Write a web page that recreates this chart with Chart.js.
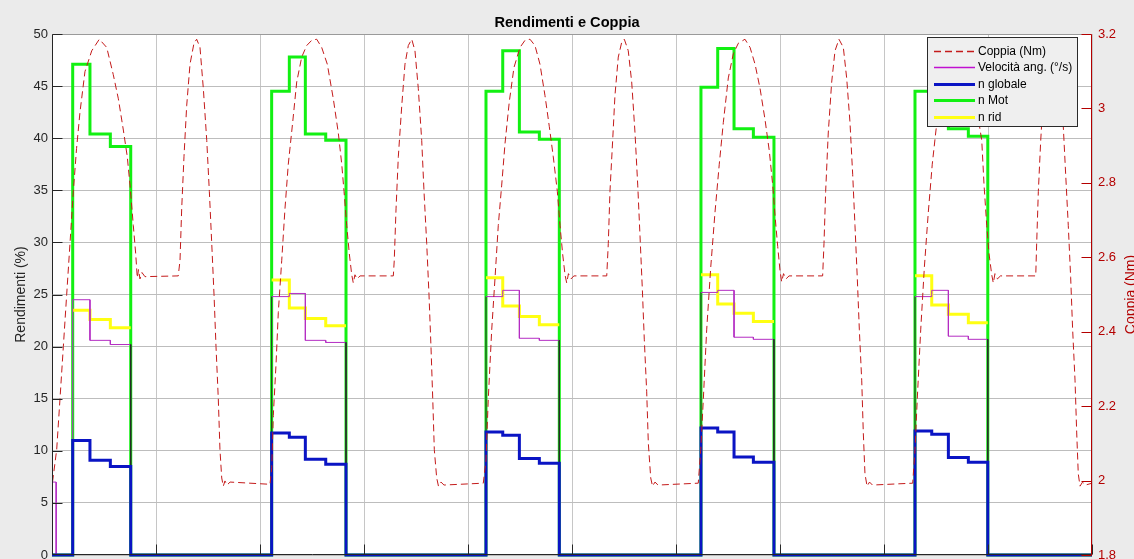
<!DOCTYPE html>
<html>
<head>
<meta charset="utf-8">
<script src="https://cdn.jsdelivr.net/npm/chart.js@4.4.1/dist/chart.umd.min.js"></script>
<style>
  html, body { margin: 0; padding: 0; background: #ebebeb; }
  #wrap { position: relative; width: 1134px; height: 559px; }
  canvas { display: block; }
</style>
</head>
<body>
<div id="wrap"><canvas id="c" width="1134" height="559"></canvas></div>
<script>
// ---- axis ticks ----
const timeTicks = [0, 1, 2, 3, 4, 5, 6, 7, 8, 9, 10];
const rendTicks = [0, 5, 10, 15, 20, 25, 30, 35, 40, 45, 50];
const coppiaTicks = [1.8, 2, 2.2, 2.4, 2.6, 2.8, 3, 3.2];
const coppiaTickLabels = ['1.8', '2', '2.2', '2.4', '2.6', '2.8', '3', '3.2'];

// ---- torque (Nm), sampled trace ----
const coppiaT = [
  0.005,0.045,0.077,0.109,0.141,0.173,0.205,0.236,0.269,0.317,0.382,0.455,0.526,0.589,0.638,0.686,0.724,0.750,0.782,0.805,0.820,0.832,0.846,0.865,0.894,
  1.214,1.231,1.247,1.269,1.295,1.327,1.365,1.391,1.423,1.455,1.488,1.513,1.536,1.558,1.577,1.599,1.615,1.632,1.647,1.663,1.683,1.712,
  2.096,2.113,2.128,2.154,2.176,2.209,2.240,2.272,2.314,2.353,2.401,2.449,2.497,2.545,2.593,2.647,2.705,2.753,2.786,2.808,2.834,2.859,2.882,2.897,2.913,2.933,2.962,
  3.282,3.291,3.308,3.330,3.363,3.394,3.426,3.459,3.490,3.522,3.555,3.577,3.603,3.625,3.644,3.661,3.676,3.699,3.716,3.740,3.769,
  4.147,4.173,4.195,4.228,4.260,4.291,4.324,4.356,4.397,4.442,4.500,4.548,4.596,4.644,4.692,4.740,4.782,4.820,4.859,4.885,4.910,4.933,4.949,4.966,4.990,5.019,
  5.334,5.349,5.365,5.391,5.413,5.445,5.478,5.503,5.541,5.574,5.606,5.632,5.654,5.676,5.695,5.718,5.734,5.757,5.774,5.798,5.827,
  6.214,6.238,6.263,6.295,6.334,6.375,6.416,6.455,6.503,6.551,6.599,6.663,6.712,6.760,6.808,6.856,6.897,6.930,6.955,6.978,7.000,7.016,7.034,7.058,7.087,
  7.410,7.423,7.439,7.464,7.497,7.529,7.567,7.609,7.641,7.673,7.699,7.721,7.743,7.763,7.786,7.801,7.817,7.837,7.861,7.889,
  8.276,8.298,8.320,8.353,8.388,8.426,8.464,8.500,8.548,8.606,8.663,8.721,8.779,8.837,8.885,8.913,8.940,8.962,8.988,9.010,9.036,9.051,9.067,9.091,9.120,
  9.459,9.468,9.484,9.507,9.534,9.567,9.606,9.644,9.683,9.724,9.747,9.772,9.795,9.814,9.837,9.853,9.868,9.885,9.909,9.938,10.000
];
const coppiaNm = [
  1.996,2.083,2.220,2.360,2.499,2.637,2.777,2.892,2.990,3.099,3.155,3.186,3.164,3.091,3.026,2.942,2.870,2.794,2.685,2.609,2.545,2.567,2.542,2.559,2.548,
  2.550,2.592,2.730,2.870,3.007,3.119,3.175,3.186,3.164,3.054,2.914,2.777,2.637,2.499,2.360,2.220,2.083,2.007,1.985,1.999,1.988,1.996,
  1.990,2.035,2.175,2.312,2.452,2.592,2.730,2.850,2.962,3.071,3.138,3.169,3.183,3.186,3.164,3.119,3.026,2.934,2.850,2.777,2.685,2.609,2.553,2.531,2.553,2.542,2.550,
  2.550,2.592,2.730,2.870,3.007,3.119,3.169,3.186,3.155,3.054,2.914,2.777,2.637,2.499,2.360,2.220,2.083,2.007,1.985,1.996,1.988,
  1.993,2.055,2.220,2.405,2.545,2.685,2.794,2.906,3.018,3.110,3.164,3.183,3.186,3.169,3.119,3.035,2.951,2.870,2.777,2.685,2.609,2.553,2.531,2.556,2.542,2.550,
  2.550,2.637,2.777,2.914,3.035,3.138,3.178,3.186,3.155,3.071,2.934,2.794,2.657,2.517,2.380,2.240,2.100,2.007,1.985,1.996,1.988,
  1.993,2.083,2.220,2.405,2.573,2.721,2.850,2.962,3.082,3.147,3.175,3.186,3.164,3.119,3.054,2.970,2.886,2.794,2.702,2.629,2.564,2.534,2.556,2.542,2.550,
  2.550,2.637,2.777,2.934,3.071,3.155,3.186,3.164,3.082,2.962,2.822,2.685,2.545,2.405,2.268,2.128,2.018,1.985,1.996,1.988,
  1.993,2.083,2.220,2.405,2.573,2.721,2.850,2.942,3.046,3.130,3.172,3.186,3.166,3.102,3.004,2.962,2.914,2.794,2.685,2.609,2.553,2.531,2.556,2.542,2.550,
  2.550,2.637,2.777,2.914,3.046,3.144,3.186,3.158,3.060,2.951,2.822,2.685,2.545,2.405,2.268,2.128,2.018,1.985,1.996,1.988,1.993
];

// ---- efficiency windows: switching instants and levels per cycle ----
const cycleEdges = [
  [0.199, 0.365, 0.561, 0.757],
  [2.112, 2.282, 2.436, 2.632, 2.827],
  [4.173, 4.334, 4.494, 4.686, 4.878],
  [6.240, 6.401, 6.558, 6.744, 6.942],
  [8.298, 8.459, 8.619, 8.811, 8.998]
];
const nMot = [
  [47.1, 40.4, 39.2],
  [44.5, 47.8, 40.4, 39.8],
  [44.5, 48.4, 40.6, 39.9],
  [44.9, 48.6, 40.9, 40.1],
  [44.5, 48.5, 40.9, 40.2]
];
const nGlobale = [
  [11.0, 9.1, 8.5],
  [11.7, 11.3, 9.2, 8.7],
  [11.8, 11.5, 9.25, 8.8],
  [12.2, 11.8, 9.4, 8.9],
  [11.9, 11.6, 9.35, 8.9]
];
const nRid = [
  [23.5, 22.6, 21.8],
  [26.4, 23.7, 22.7, 22.0],
  [26.6, 23.9, 22.9, 22.1],
  [26.9, 24.1, 23.2, 22.4],
  [26.8, 24.0, 23.1, 22.3]
];
const velAng = [
  [24.5, 20.6, 20.2],
  [24.8, 25.1, 20.6, 20.4],
  [24.8, 25.4, 20.8, 20.6],
  [25.2, 25.4, 20.9, 20.7],
  [24.8, 25.4, 21.0, 20.7]
];
const velStartT = [0.005, 0.04];
const velStartVal = 7.0;

const T_MIN = timeTicks[0], T_MAX = timeTicks[timeTicks.length - 1];

// stairs that rest at zero between windows (drawn with stepped lines)
function stairsZero(levels) {
  const pts = [{ x: T_MIN, y: 0 }];
  cycleEdges.forEach((e, c) => {
    levels[c].forEach((v, i) => pts.push({ x: e[i], y: v }));
    pts.push({ x: e[e.length - 1], y: 0 });
  });
  pts.push({ x: T_MAX, y: 0 });
  return pts;
}
// stairs that exist only inside windows
function stairsWindow(levels) {
  const pts = [];
  cycleEdges.forEach((e, c) => {
    levels[c].forEach((v, i) => pts.push({ x: e[i], y: v }));
    pts.push({ x: e[e.length - 1], y: levels[c][levels[c].length - 1] });
    pts.push({ x: e[e.length - 1] + 0.3, y: null });
  });
  return pts;
}
// explicit corner polyline so vertical edges can be styled
function stairsCorners() {
  const pts = [
    { x: velStartT[0], y: velStartVal }, { x: velStartT[1], y: velStartVal }, { x: velStartT[1], y: 0 }
  ];
  cycleEdges.forEach((e, c) => {
    const lv = velAng[c];
    pts.push({ x: e[0], y: 0 });
    lv.forEach((v, i) => {
      pts.push({ x: e[i], y: v });
      pts.push({ x: e[i + 1], y: v });
    });
    pts.push({ x: e[e.length - 1], y: 0 });
  });
  pts.push({ x: T_MAX, y: 0 });
  return pts;
}
const darkEdges = new Set();
cycleEdges.forEach((e, c) => { if (c > 0) darkEdges.add(e[0]); darkEdges.add(e[e.length - 1]); });

const FONT = '"Liberation Sans", Arial, Helvetica, sans-serif';
const RED = '#b40000';

const frame = {
  id: 'frame',
  beforeDraw(chart) {
    const { ctx, chartArea: a } = chart;
    ctx.save();
    ctx.fillStyle = '#ffffff';
    ctx.fillRect(a.left, a.top, a.right - a.left, a.bottom - a.top);
    ctx.restore();
  },
  afterDatasetsDraw(chart) {
    const { ctx, chartArea: a, scales } = chart;
    const L = Math.round(a.left) + 0.5, R = Math.round(a.right) - 0.5;
    const T = Math.round(a.top) + 0.5, B = Math.round(a.bottom) - 0.5;
    const tl = 10;
    ctx.save();
    ctx.lineWidth = 1;
    // box
    ctx.strokeStyle = '#9a9a9a';
    ctx.beginPath(); ctx.moveTo(L, T); ctx.lineTo(R, T); ctx.stroke();
    ctx.strokeStyle = '#262626';
    ctx.beginPath(); ctx.moveTo(L, T); ctx.lineTo(L, B); ctx.lineTo(R, B); ctx.stroke();
    ctx.strokeStyle = RED;
    ctx.beginPath(); ctx.moveTo(R, T); ctx.lineTo(R, B + 1); ctx.stroke();
    // inward ticks
    ctx.strokeStyle = '#262626';
    ctx.beginPath();
    rendTicks.forEach(v => { const y = Math.round(scales.y.getPixelForValue(v)) - 0.5 + (v === 0 ? 0 : 1);
      ctx.moveTo(L, y); ctx.lineTo(L + tl, y); });
    timeTicks.forEach(v => { const x = Math.round(scales.x.getPixelForValue(v)) + 0.5;
      ctx.moveTo(x, B); ctx.lineTo(x, B - tl); });
    ctx.stroke();
    ctx.strokeStyle = RED;
    ctx.beginPath();
    coppiaTicks.forEach(v => { const y = Math.round(scales.y2.getPixelForValue(v)) + 0.5;
      ctx.moveTo(R, y); ctx.lineTo(R - tl, y); });
    ctx.stroke();
    ctx.restore();
  },
  afterDraw(chart) {
    const { ctx, chartArea: a } = chart;
    ctx.save();
    // axis titles
    ctx.font = '14px ' + FONT;
    ctx.textAlign = 'center';
    ctx.textBaseline = 'middle';
    ctx.fillStyle = '#262626';
    ctx.translate(21, (a.top + a.bottom) / 2);
    ctx.rotate(-Math.PI / 2);
    ctx.fillText('Rendimenti (%)', 0, 0);
    ctx.setTransform(1, 0, 0, 1, 0, 0);
    ctx.fillStyle = RED;
    ctx.translate(1131, (a.top + a.bottom) / 2);
    ctx.rotate(-Math.PI / 2);
    ctx.fillText('Coppia (Nm)', 0, 0);
    ctx.setTransform(1, 0, 0, 1, 0, 0);

    // legend box
    const bx = 927, by = 37, bw = 150, bh = 89;
    ctx.fillStyle = '#efefef';
    ctx.fillRect(bx, by, bw, bh);
    ctx.strokeStyle = '#2a2a2a';
    ctx.lineWidth = 1;
    ctx.strokeRect(bx + 0.5, by + 0.5, bw, bh);
    const items = chart.data.datasets.slice().sort((p, q) => p.legendRank - q.legendRank);
    ctx.font = '12px ' + FONT;
    ctx.textAlign = 'left';
    ctx.textBaseline = 'middle';
    items.forEach((d, i) => {
      const y = Math.round(by + 14 + i * 16.4) + 0.5;
      ctx.strokeStyle = d.legendColor || d.borderColor;
      ctx.lineWidth = d.legendWidth || d.borderWidth;
      ctx.setLineDash(d.borderDash || []);
      ctx.beginPath(); ctx.moveTo(934, y); ctx.lineTo(975, y); ctx.stroke();
      ctx.setLineDash([]);
      ctx.fillStyle = '#000';
      ctx.fillText(d.label, 978, y);
    });
    ctx.restore();
  }
};

new Chart(document.getElementById('c'), {
  type: 'line',
  data: {
    datasets: [
      {
        label: 'Coppia (Nm)', legendRank: 0, yAxisID: 'y2', order: 0,
        data: coppiaT.map((t, i) => ({ x: t, y: coppiaNm[i] })),
        borderColor: '#c41a1a', borderWidth: 1, borderDash: [7, 4], pointRadius: 0, tension: 0,
        legendWidth: 1.3
      },
      {
        label: 'Velocità ang. (°/s)', legendRank: 1, yAxisID: 'y', order: 2,
        data: stairsCorners(),
        borderColor: '#b42dc3', legendColor: '#c010d0', legendWidth: 1.3, borderWidth: 1, pointRadius: 0,
        segment: {
          borderColor: ctx => (ctx.p0.parsed.x === ctx.p1.parsed.x && darkEdges.has(ctx.p0.parsed.x)) ? '#2a2a2a' : undefined
        }
      },
      {
        label: 'n globale', legendRank: 2, yAxisID: 'y', order: 1,
        data: stairsZero(nGlobale), stepped: true,
        borderColor: '#0a14c4', borderWidth: 3, pointRadius: 0, clip: 4
      },
      {
        label: 'n Mot', legendRank: 3, yAxisID: 'y', order: 4,
        data: stairsZero(nMot), stepped: true,
        borderColor: '#12f012', borderWidth: 3, pointRadius: 0, clip: 4
      },
      {
        label: 'n rid', legendRank: 4, yAxisID: 'y', order: 3,
        data: stairsWindow(nRid), stepped: true, spanGaps: false,
        borderColor: '#ffff12', borderWidth: 3, pointRadius: 0
      }
    ]
  },
  options: {
    responsive: false,
    animation: false,
    devicePixelRatio: 1,
    events: [],
    layout: { padding: 0 },
    plugins: {
      legend: { display: false },
      tooltip: { enabled: false },
      title: {
        display: true,
        text: 'Rendimenti e Coppia',
        color: '#000',
        font: { family: FONT, size: 14.6, weight: 'bold', lineHeight: 1.2 },
        padding: { top: 14.5, bottom: 2 }
      }
    },
    scales: {
      x: {
        type: 'linear', min: T_MIN, max: T_MAX, position: 'bottom',
        afterBuildTicks: s => { s.ticks = timeTicks.map(v => ({ value: v })); },
        afterFit: s => { s.height = 4; s.paddingLeft = 0; s.paddingRight = 0; },
        ticks: { display: false },
        grid: { color: '#c6c6c6', drawTicks: false, lineWidth: 1 },
        border: { display: false }
      },
      y: {
        type: 'linear', min: rendTicks[0], max: rendTicks[rendTicks.length - 1], position: 'left',
        afterBuildTicks: s => { s.ticks = rendTicks.map(v => ({ value: v })); },
        afterFit: s => { s.width = 52; s.paddingTop = 0; s.paddingBottom = 0; },
        ticks: { color: '#262626', font: { family: FONT, size: 13 }, padding: 4 },
        grid: { color: '#bdbdbd', drawTicks: false, lineWidth: 1 },
        border: { display: false }
      },
      y2: {
        type: 'linear', min: coppiaTicks[0], max: coppiaTicks[coppiaTicks.length - 1], position: 'right',
        afterBuildTicks: s => { s.ticks = coppiaTicks.map(v => ({ value: v })); },
        afterFit: s => { s.width = 42; s.paddingTop = 0; s.paddingBottom = 0; },
        ticks: {
          color: RED, font: { family: FONT, size: 13 }, padding: 6,
          callback: v => coppiaTickLabels[coppiaTicks.indexOf(v)] ?? String(v)
        },
        grid: { drawOnChartArea: false, drawTicks: false },
        border: { display: false }
      }
    }
  },
  plugins: [frame]
});
</script>
</body>
</html>
